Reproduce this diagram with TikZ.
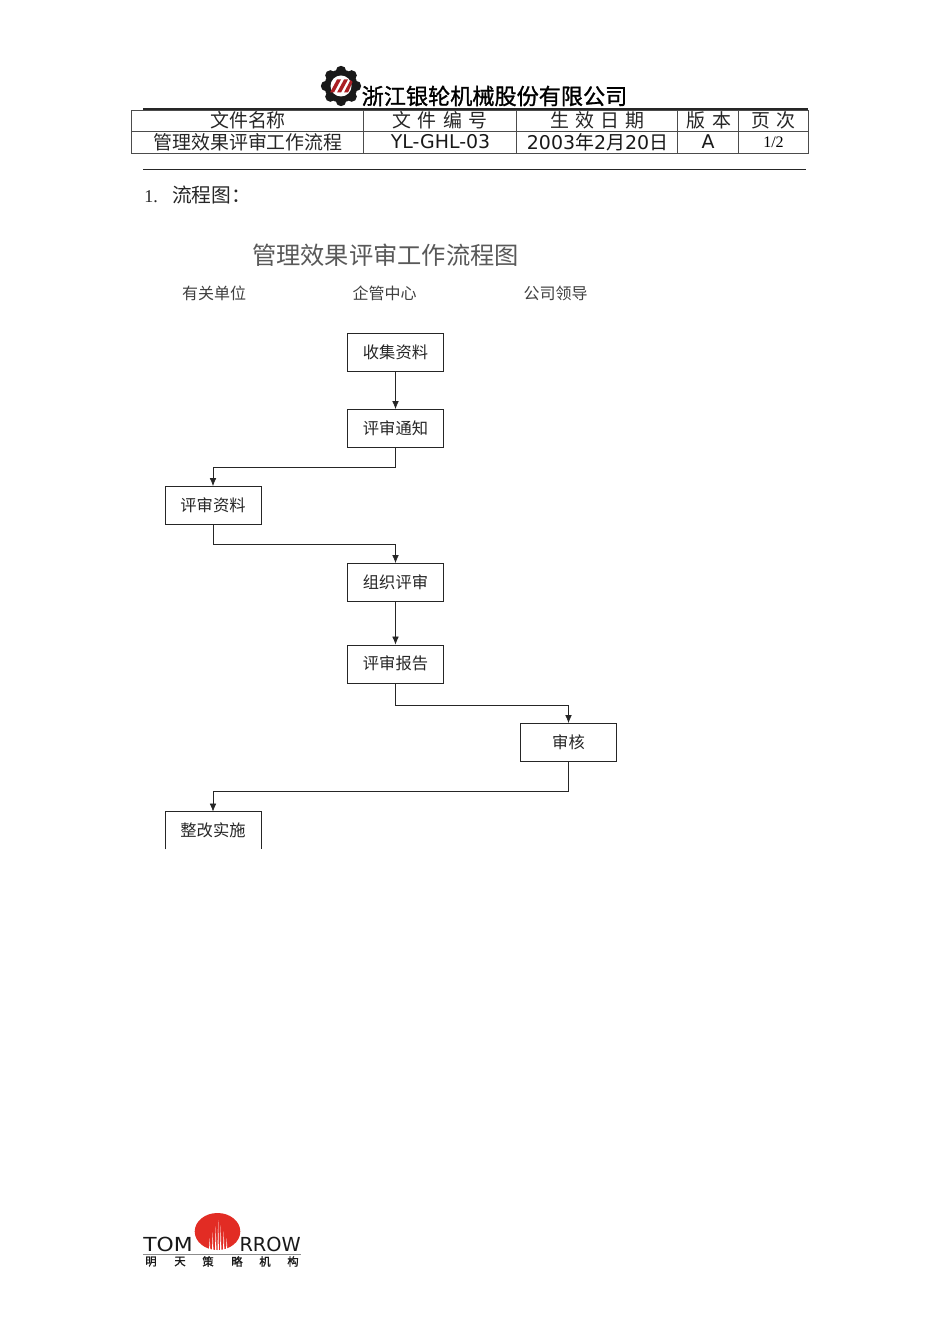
\documentclass[tikz,border=0pt]{standalone}
\usepackage{fontspec}
\usetikzlibrary{arrows.meta}
\setmainfont{Liberation Serif}
\newfontfamily\cjkf{Noto Sans CJK SC}
\newfontfamily\cjkh{Noto Sans CJK SC}[FakeBold=1.2]
\newfontfamily\dvs{DejaVu Sans}
\definecolor{logored}{RGB}{226,44,36}
\definecolor{gearred}{RGB}{170,30,35}
\tikzset{x=0.75pt,y=-0.75pt,
 flowbox/.style={draw=black!85,line width=0.6pt,minimum width=71.5pt,minimum height=28.5pt,inner sep=0pt,font=\cjkf\fontsize{12.2}{14}\selectfont,text=black!85,fill=white},
 flowtext/.style={inner sep=0pt,font=\cjkf\fontsize{12}{14}\selectfont,text=black!75},
 conn/.style={draw=black!85,line width=0.55pt,-{Latex[length=6pt,width=5pt]}},
 cell/.style={inner sep=0pt,font=\cjkf\fontsize{14.2}{15}\selectfont,text=black!85},
 latin/.style={inner sep=0pt,font=\dvs\fontsize{14.2}{15}\selectfont,text=black!90},
 rulel/.style={draw=black!85,line width=0.7pt},
 grid/.style={draw=black!70,line width=0.7pt}}
\begin{document}
\begin{tikzpicture}
\useasboundingbox (0,0) rectangle (950,1344);
\fill[white] (0,0) rectangle (950,1344);
% gear logo
\fill[black!90] (341,86) circle (16.5);
\foreach \a in {0,45,...,315}{\fill[black!90,rotate around={\a:(341,86)}] (341,71) circle (5.2);}
\fill[white] (341,86) circle (10.5);
\fill[gearred] (330,92.5) -- (337,79.5) -- (341,79.5) -- (334,92.5) -- cycle;
\fill[gearred] (337,92.5) -- (344,79.5) -- (348,79.5) -- (341,92.5) -- cycle;
\fill[gearred] (344,92.5) -- (350.5,80) -- (352.5,82) -- (348,92.5) -- cycle;
\node[inner sep=0pt,font=\cjkh\fontsize{16.6}{18}\selectfont] (company) at (494.5,96) {浙江银轮机械股份有限公司};
% table
\draw[line width=1.2pt,black!85] (143,109) -- (808,109);
\draw[grid] (131.5,110) rectangle (808,153);
\draw[grid] (131.5,131.5) -- (808,131.5);
\foreach \x in {363,516,677,738}{\draw[grid] (\x,110) -- (\x,153);}
\node[cell] (h1) at (248,120) {文件名称};
\node[cell] (h2) at (440,120) {文\,\,件\,\,编\,\,号};
\node[cell] (h3) at (597.5,120) {生\,\,效\,\,日\,\,期};
\node[cell] (h4) at (709,120) {版\,\,本};
\node[cell] (h5) at (773.5,120) {页\,\,次};
\node[cell] (v1) at (248,142) {管理效果评审工作流程};
\node[latin] (v2) at (440.5,142) {YL-GHL-03};
\node[latin] (v3) at (597.5,142) {2003{\cjkf 年}2{\cjkf 月}20{\cjkf 日}};
\node[latin] (v4) at (708,142) {A};
\node[inner sep=0pt,font=\fontsize{12}{14}\selectfont] (v5) at (773.5,142.5) {1/2};
\draw[rulel] (143,169.5) -- (806,169.5);
\node[inner sep=0pt,anchor=west,font=\fontsize{13.5}{15}\selectfont,text=black!85] (sec) at (144,195) {1.\hspace{0.8em}{\cjkf\fontsize{14.8}{15}\selectfont 流程图：}};
% chart heading
\node[inner sep=0pt,font=\cjkf\fontsize{18.2}{20}\selectfont,text=black!65] (title) at (385.5,255) {管理效果评审工作流程图};
\node[flowtext] (c1) at (214,293) {有关单位};
\node[flowtext] (c2) at (384.5,293) {企管中心};
\node[flowtext] (c3) at (555.5,293) {公司领导};
% boxes
\node[flowbox] (a) at (395.5,352.5) {\raisebox{1.5pt}{收集资料}};
\node[flowbox] (b) at (395.5,428.5) {\raisebox{1.5pt}{评审通知}};
\node[flowbox,minimum width=72pt] (c) at (213,505.5) {\raisebox{1.5pt}{评审资料}};
\node[flowbox] (d) at (395.5,582.5) {\raisebox{1.5pt}{组织评审}};
\node[flowbox] (e) at (395.5,664) {\raisebox{1.5pt}{评审报告}};
\node[flowbox] (f) at (568.5,742.5) {审核};
\node[flowbox,draw=none,fill=none,minimum height=27.75pt] (g) at (213,830.5) {\raisebox{0.5pt}{整改实施}};
\draw[draw=black!85,line width=0.6pt] (g.south west) -- (g.north west) -- (g.north east) -- (g.south east);
% connectors
\draw[conn] (a) -- (b);
\draw[conn] (b.south) -- ++(0,19.5) -| (c.north);
\draw[conn] (c.south) -- ++(0,19) -| (d.north);
\draw[conn] (d) -- (e);
\draw[conn] (e.south) -- ++(0,21.5) -| (f.north);
\draw[conn] (f.south) -- ++(0,29.5) -| (g.north);
% footer logo
\fill[logored] (217.5,1231.5) ellipse (22.8 and 18.5);
\foreach \x/\t in {209/1238,212/1232,215/1226,217.5/1220,220/1225,223/1231,226/1238}{\fill[white] (\x,1251) -- (\x+.7,\t) -- (\x+1.4,1251) -- cycle;}
\node[inner sep=0pt,anchor=base west,font=\dvs\fontsize{14.5}{16}\selectfont,text=black!90,xscale=1.13] (tom) at (143,1251) {TOM};
\node[inner sep=0pt,anchor=base east,font=\dvs\fontsize{14.5}{16}\selectfont,text=black!90] (row) at (301,1251) {RROW};
\draw[line width=1.1pt,black!45] (143,1254.5) -- (301,1254.5);
\foreach \x/\t in {151/明,180/天,208/策,237/略,265/机,293/构}{\node[inner sep=0pt,font=\cjkh\fontsize{8.5}{9}\selectfont,text=black!90] (f\x) at (\x,1261.5) {\t};}
\end{tikzpicture}
\end{document}
